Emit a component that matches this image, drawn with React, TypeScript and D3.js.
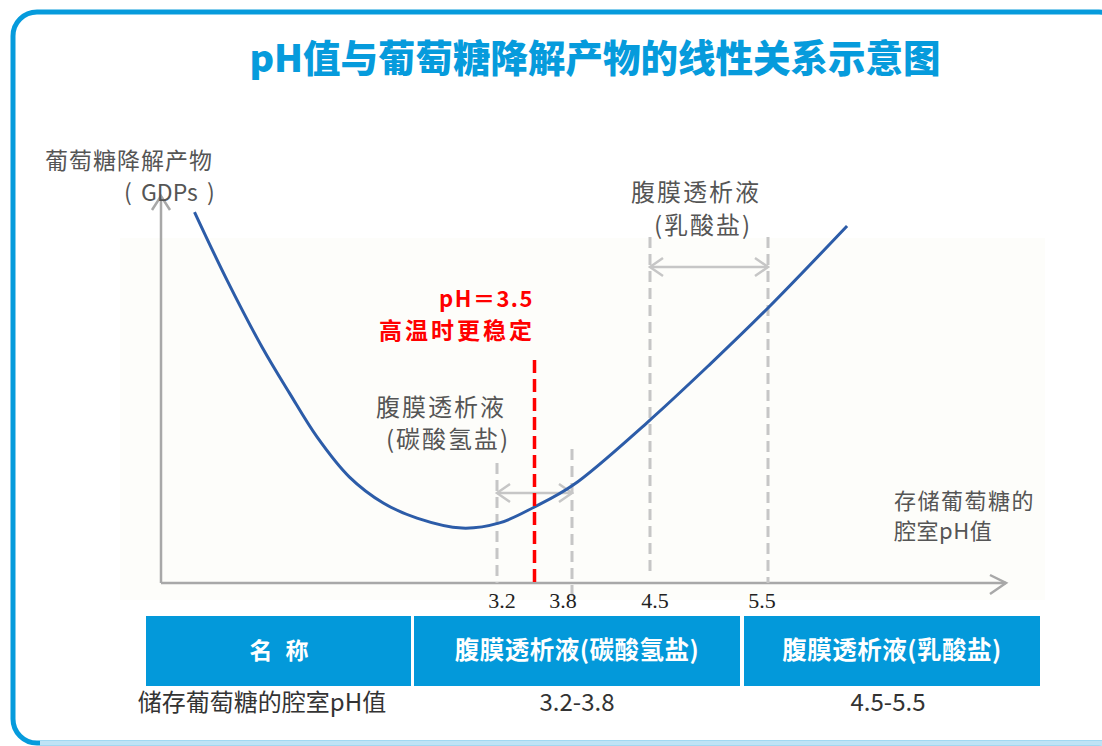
import { useMemo } from 'react';
import * as d3 from 'd3';

// pH ticks marked on the x axis (schematic, not evenly spaced)
const phTicks = [3.2, 3.8, 4.5, 5.5];
const tickLabels = ['3.2', '3.8', '4.5', '5.5'];
const stablePh = 3.5;

// GDPs curve: pH vs relative GDPs level (0-100)
const curvePh = [0.78, 1.04, 1.32, 1.54, 1.76, 2.02, 2.29, 2.56, 2.92, 3.22, 3.5, 3.81, 4.47, 5.01, 5.5, 6.17];
const curveGdp = [93.2, 76.1, 59.3, 47.7, 36.7, 26.6, 20.1, 16.3, 13.8, 15.1, 19.1, 24.6, 40.2, 55.0, 69.1, 89.7];

// ranges of the two dialysate types
const bicarbRange = [3.2, 3.8];
const lactateRange = [4.5, 5.5];

// table
const tableHeader = ['名称', '腹膜透析液(碳酸氢盐)', '腹膜透析液(乳酸盐)'];
const tableRow = ['储存葡萄糖的腔室pH值', '3.2-3.8', '4.5-5.5'];

const BLUE = '#069bdc';
const GREY_TEXT = '#555';
const FONT = '"Noto Sans CJK SC", "Noto Sans", sans-serif';

export default function App() {
  const x = useMemo(
    () => d3.scaleLinear().domain(phTicks).range([497, 572, 650, 768]),
    []
  );
  const y = useMemo(() => d3.scaleLinear().domain([0, 100]).range([583, 185]), []);

  const line = d3
    .line<number>()
    .x((d) => x(curvePh[d]))
    .y((d) => y(curveGdp[d]))
    .curve(d3.curveCatmullRom.alpha(0.5));
  const curvePath = line(curvePh.map((_, i) => i)) ?? '';

  const x0 = 161;
  const yBase = y(0);

  const cols = d3.scaleOrdinal<string, number>().domain(tableHeader).range([146, 414, 744]);
  const colW = [265, 326, 296];

  const grey = '#c6c6c6';
  const chev = (px: number, py: number, dir: number) =>
    `M${px + dir * 13},${py - 9}L${px},${py}L${px + dir * 13},${py + 9}`;

  const arrowRange = (r: number[], ay: number) => (
    <g stroke={grey} strokeWidth={2.5} fill="none">
      <line x1={x(r[0])} x2={x(r[1])} y1={ay} y2={ay} />
      <path d={chev(x(r[0]), ay, 1)} />
      <path d={chev(x(r[1]), ay, -1)} />
    </g>
  );

  return (
    <svg
      width={1102}
      height={746}
      style={{ position: 'absolute', left: 0, top: 0, background: '#fff' }}
      fontFamily={FONT}
    >
      {/* frame */}
      <rect x={13} y={12} width={1110} height={731} rx={24} fill="#fff" stroke={BLUE} strokeWidth={5} />
      <line x1={40} x2={1102} y1={743} y2={743} stroke="#bfe3f5" strokeWidth={5} />

      {/* faint plot background */}
      <rect x={120} y={238} width={925} height={362} fill="#fdfdfa" />

      {/* title */}
      <text x={595} y={72} textAnchor="middle" fontSize={37.5} fontWeight={900} fill={BLUE}>
        pH值与葡萄糖降解产物的线性关系示意图
      </text>

      {/* axes */}
      <g stroke="#a8a8a8" strokeWidth={2.5} fill="none">
        <line x1={x0} x2={x0} y1={yBase} y2={196} />
        <path d={`M${x0 - 9},${210}L${x0},${196}L${x0 + 9},${210}`} />
        <line x1={x0} x2={1006} y1={yBase} y2={yBase} />
        <path d={`M990,${yBase - 8}L1006,${yBase}L990,${yBase + 11}`} />
      </g>

      {/* y label */}
      <text x={45} y={169} fontSize={23} letterSpacing={1} fill={GREY_TEXT}>葡萄糖降解产物</text>
      <text y={201} fontSize={23} fill={GREY_TEXT}>
        <tspan x={124}>(</tspan>
        <tspan x={141}>GDPs</tspan>
        <tspan x={207}>)</tspan>
      </text>

      {/* x label */}
      <text x={894} y={509} fontSize={22} letterSpacing={1.5} fill={GREY_TEXT}>存储葡萄糖的</text>
      <text x={894} y={539} fontSize={22} letterSpacing={0.5} fill={GREY_TEXT}>腔室pH值</text>

      {/* dashed range markers */}
      <g stroke={grey} strokeWidth={3} strokeDasharray="11 6">
        <line x1={x(3.2)} x2={x(3.2)} y1={463} y2={yBase} />
        <line x1={x(3.8)} x2={x(3.8)} y1={449} y2={yBase + 14} />
        <line x1={x(4.5)} x2={x(4.5)} y1={237} y2={yBase - 8} />
        <line x1={x(5.5)} x2={x(5.5)} y1={237} y2={yBase} />
      </g>
      {arrowRange(bicarbRange, 493)}
      {arrowRange(lactateRange, 267)}

      {/* curve */}
      <path d={curvePath} fill="none" stroke="#2c5ca8" strokeWidth={3} />

      {/* stable line */}
      <line
        x1={x(stablePh)}
        x2={x(stablePh)}
        y1={360}
        y2={yBase + 5}
        stroke="#ff0000"
        strokeWidth={3.5}
        strokeDasharray="13 6"
      />
      <text x={534} y={307} textAnchor="end" fontSize={22} fontWeight={700} fill="#f00" letterSpacing={1.5}>
        pH＝3.5
      </text>
      <text x={535} y={339} textAnchor="end" fontSize={23} fontWeight={700} fill="#f00" letterSpacing={3}>
        高温时更稳定
      </text>

      {/* annotations */}
      <text x={376} y={416} fontSize={24} letterSpacing={2} fill={GREY_TEXT}>腹膜透析液</text>
      <text x={386} y={448} fontSize={24} letterSpacing={2} fill={GREY_TEXT}>(碳酸氢盐)</text>
      <text x={631} y={201} fontSize={24} letterSpacing={2} fill={GREY_TEXT}>腹膜透析液</text>
      <text x={654} y={234} fontSize={24} letterSpacing={2} fill={GREY_TEXT}>(乳酸盐)</text>

      {/* tick labels */}
      <g fontFamily='"Liberation Serif", "DejaVu Serif", serif' fontSize={22} fill="#222" textAnchor="middle">
        {phTicks.map((t, i) => (
          <text key={t} x={x(t) + [5, -9, 5, -6][i]} y={608}>
            {tickLabels[i]}
          </text>
        ))}
      </g>

      {/* table */}
      {tableHeader.map((h, i) => (
        <g key={h}>
          <rect x={cols(h)} y={616} width={colW[i]} height={70} fill="#0399da" />
          <text
            x={cols(h) + colW[i] / 2 + (i === 0 ? 7 : 0)}
            y={659}
            textAnchor="middle"
            fontSize={i === 0 ? 23 : 24.5}
            fontWeight={700}
            letterSpacing={i === 0 ? 13 : 0.5}
            fill="#fff"
          >
            {h}
          </text>
          <text
            x={i === 0 ? 262 : cols(h) + colW[i] / 2 - (i === 2 ? 4 : 0)}
            y={711}
            textAnchor="middle"
            fontSize={24}
            fill="#333"
          >
            {tableRow[i]}
          </text>
        </g>
      ))}
    </svg>
  );
}
